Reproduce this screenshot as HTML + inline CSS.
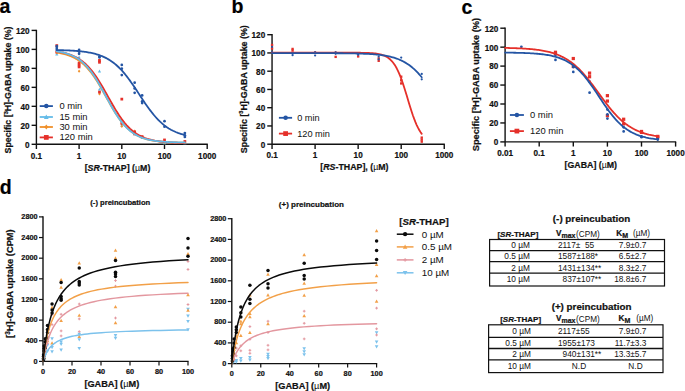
<!DOCTYPE html>
<html><head><meta charset="utf-8"><style>
html,body{margin:0;padding:0;background:#fff;width:685px;height:391px;overflow:hidden}
svg{display:block}
text{font-family:"Liberation Sans",sans-serif}
text[font-weight=bold]{stroke:#111;stroke-width:0.22px}
tspan[font-weight=normal]{stroke:none}
</style></head><body>
<svg width="685" height="391" viewBox="0 0 685 391">
<rect width="685" height="391" fill="#fff"/>
<text x="-0.40" y="13.20" font-size="19.5" font-weight="bold" text-anchor="start" fill="#000" >a</text>
<text x="231.40" y="12.90" font-size="19.5" font-weight="bold" text-anchor="start" fill="#000" >b</text>
<text x="461.60" y="13.60" font-size="19.5" font-weight="bold" text-anchor="start" fill="#000" >c</text>
<text x="-0.20" y="193.80" font-size="19.5" font-weight="bold" text-anchor="start" fill="#000" >d</text>
<line x1="36.40" y1="144.30" x2="207.80" y2="144.30" stroke="#111" stroke-width="1.4" />
<line x1="36.40" y1="29.80" x2="36.40" y2="144.30" stroke="#111" stroke-width="1.4" />
<line x1="31.60" y1="144.30" x2="36.40" y2="144.30" stroke="#111" stroke-width="1.4" />
<text transform="translate(29.60,147.65) scale(0.86,1)" font-size="9.5" font-weight="bold" text-anchor="end" fill="#111" >0</text>
<line x1="31.60" y1="125.32" x2="36.40" y2="125.32" stroke="#111" stroke-width="1.4" />
<text transform="translate(29.60,128.67) scale(0.86,1)" font-size="9.5" font-weight="bold" text-anchor="end" fill="#111" >20</text>
<line x1="31.60" y1="106.33" x2="36.40" y2="106.33" stroke="#111" stroke-width="1.4" />
<text transform="translate(29.60,109.68) scale(0.86,1)" font-size="9.5" font-weight="bold" text-anchor="end" fill="#111" >40</text>
<line x1="31.60" y1="87.35" x2="36.40" y2="87.35" stroke="#111" stroke-width="1.4" />
<text transform="translate(29.60,90.70) scale(0.86,1)" font-size="9.5" font-weight="bold" text-anchor="end" fill="#111" >60</text>
<line x1="31.60" y1="68.36" x2="36.40" y2="68.36" stroke="#111" stroke-width="1.4" />
<text transform="translate(29.60,71.71) scale(0.86,1)" font-size="9.5" font-weight="bold" text-anchor="end" fill="#111" >80</text>
<line x1="31.60" y1="49.38" x2="36.40" y2="49.38" stroke="#111" stroke-width="1.4" />
<text transform="translate(29.60,52.73) scale(0.86,1)" font-size="9.5" font-weight="bold" text-anchor="end" fill="#111" >100</text>
<line x1="31.60" y1="30.40" x2="36.40" y2="30.40" stroke="#111" stroke-width="1.4" />
<text transform="translate(29.60,33.75) scale(0.86,1)" font-size="9.5" font-weight="bold" text-anchor="end" fill="#111" >120</text>
<line x1="36.40" y1="144.30" x2="36.40" y2="149.00" stroke="#111" stroke-width="1.4" />
<text transform="translate(36.40,158.60) scale(0.86,1)" font-size="9.5" font-weight="bold" text-anchor="middle" fill="#111" >0.1</text>
<line x1="79.10" y1="144.30" x2="79.10" y2="149.00" stroke="#111" stroke-width="1.4" />
<text transform="translate(79.10,158.60) scale(0.86,1)" font-size="9.5" font-weight="bold" text-anchor="middle" fill="#111" >1</text>
<line x1="121.80" y1="144.30" x2="121.80" y2="149.00" stroke="#111" stroke-width="1.4" />
<text transform="translate(121.80,158.60) scale(0.86,1)" font-size="9.5" font-weight="bold" text-anchor="middle" fill="#111" >10</text>
<line x1="164.50" y1="144.30" x2="164.50" y2="149.00" stroke="#111" stroke-width="1.4" />
<text transform="translate(164.50,158.60) scale(0.86,1)" font-size="9.5" font-weight="bold" text-anchor="middle" fill="#111" >100</text>
<line x1="207.20" y1="144.30" x2="207.20" y2="149.00" stroke="#111" stroke-width="1.4" />
<text transform="translate(207.20,158.60) scale(0.86,1)" font-size="9.5" font-weight="bold" text-anchor="middle" fill="#111" >1000</text>
<text x="117.50" y="170.60" font-size="8.8" font-weight="bold" text-anchor="middle" fill="#111">[<tspan font-style="italic">SR</tspan>-THAP] (<tspan font-weight="normal">µ</tspan>M)</text>
<text transform="translate(11.40,90.00) rotate(-90) scale(1.0,1)" font-size="8.8" font-weight="bold" text-anchor="middle" fill="#111">Specific [<tspan font-size="5.6" dy="-3.2">3</tspan><tspan dy="3.2">H]-GABA uptake (%)</tspan></text>
<polygon points="56.77,52.51 58.39,55.42 55.16,55.42" fill="#64bbe8"/>
<polygon points="79.10,55.55 80.71,58.46 77.48,58.46" fill="#64bbe8"/>
<polygon points="99.47,69.60 101.09,72.50 97.86,72.50" fill="#64bbe8"/>
<polygon points="99.47,87.63 101.09,90.54 97.86,90.54" fill="#64bbe8"/>
<polygon points="121.80,118.96 123.41,121.86 120.19,121.86" fill="#64bbe8"/>
<polygon points="121.80,123.70 123.41,126.61 120.19,126.61" fill="#64bbe8"/>
<polygon points="134.65,132.24 136.27,135.15 133.04,135.15" fill="#64bbe8"/>
<polygon points="134.65,131.29 136.27,134.20 133.04,134.20" fill="#64bbe8"/>
<polygon points="142.17,136.04 143.79,138.95 140.56,138.95" fill="#64bbe8"/>
<polygon points="164.50,141.26 166.12,144.17 162.88,144.17" fill="#64bbe8"/>
<polygon points="184.87,141.26 186.49,144.17 183.26,144.17" fill="#64bbe8"/>
<polygon points="56.77,50.61 58.07,52.23 56.77,53.84 55.48,52.23" fill="#f0902a"/>
<polygon points="79.10,69.60 80.39,71.21 79.10,72.83 77.81,71.21" fill="#f0902a"/>
<polygon points="99.47,59.63 100.77,61.25 99.47,62.86 98.18,61.25" fill="#f0902a"/>
<polygon points="99.47,92.38 100.77,93.99 99.47,95.61 98.18,93.99" fill="#f0902a"/>
<polygon points="121.80,121.80 123.09,123.42 121.80,125.03 120.51,123.42" fill="#f0902a"/>
<polygon points="121.80,124.65 123.09,126.27 121.80,127.88 120.51,126.27" fill="#f0902a"/>
<polygon points="134.65,129.40 135.95,131.01 134.65,132.63 133.36,131.01" fill="#f0902a"/>
<polygon points="142.17,135.09 143.47,136.71 142.17,138.32 140.88,136.71" fill="#f0902a"/>
<polygon points="164.50,140.79 165.79,142.40 164.50,144.02 163.21,142.40" fill="#f0902a"/>
<polygon points="184.87,140.79 186.17,142.40 184.87,144.02 183.58,142.40" fill="#f0902a"/>
<rect x="55.41" y="44.22" width="2.74" height="2.74" fill="#e5302a"/>
<rect x="55.41" y="50.86" width="2.74" height="2.74" fill="#e5302a"/>
<rect x="77.73" y="61.68" width="2.74" height="2.74" fill="#e5302a"/>
<rect x="77.73" y="63.67" width="2.74" height="2.74" fill="#e5302a"/>
<rect x="77.73" y="65.57" width="2.74" height="2.74" fill="#e5302a"/>
<rect x="98.11" y="59.02" width="2.74" height="2.74" fill="#e5302a"/>
<rect x="98.11" y="60.92" width="2.74" height="2.74" fill="#e5302a"/>
<rect x="98.11" y="90.73" width="2.74" height="2.74" fill="#e5302a"/>
<rect x="120.43" y="97.75" width="2.74" height="2.74" fill="#e5302a"/>
<rect x="120.43" y="122.05" width="2.74" height="2.74" fill="#e5302a"/>
<rect x="133.29" y="130.59" width="2.74" height="2.74" fill="#e5302a"/>
<rect x="133.29" y="132.49" width="2.74" height="2.74" fill="#e5302a"/>
<rect x="140.81" y="135.34" width="2.74" height="2.74" fill="#e5302a"/>
<rect x="163.13" y="138.57" width="2.74" height="2.74" fill="#e5302a"/>
<rect x="183.51" y="140.08" width="2.74" height="2.74" fill="#e5302a"/>
<circle cx="56.77" cy="46.06" r="1.37" fill="#2455a4"/>
<circle cx="56.77" cy="47.96" r="1.37" fill="#2455a4"/>
<circle cx="56.77" cy="49.95" r="1.37" fill="#2455a4"/>
<circle cx="79.10" cy="49.95" r="1.37" fill="#2455a4"/>
<circle cx="79.10" cy="51.75" r="1.37" fill="#2455a4"/>
<circle cx="79.10" cy="53.84" r="1.37" fill="#2455a4"/>
<circle cx="99.47" cy="56.50" r="1.37" fill="#2455a4"/>
<circle cx="99.47" cy="57.45" r="1.37" fill="#2455a4"/>
<circle cx="121.80" cy="64.95" r="1.37" fill="#2455a4"/>
<circle cx="121.80" cy="68.74" r="1.37" fill="#2455a4"/>
<circle cx="121.80" cy="75.10" r="1.37" fill="#2455a4"/>
<circle cx="134.65" cy="82.70" r="1.37" fill="#2455a4"/>
<circle cx="134.65" cy="88.49" r="1.37" fill="#2455a4"/>
<circle cx="134.65" cy="92.85" r="1.37" fill="#2455a4"/>
<circle cx="142.17" cy="95.42" r="1.37" fill="#2455a4"/>
<circle cx="142.17" cy="101.30" r="1.37" fill="#2455a4"/>
<circle cx="142.17" cy="103.10" r="1.37" fill="#2455a4"/>
<circle cx="164.50" cy="121.23" r="1.37" fill="#2455a4"/>
<circle cx="164.50" cy="126.64" r="1.37" fill="#2455a4"/>
<circle cx="184.87" cy="133.00" r="1.37" fill="#2455a4"/>
<circle cx="184.87" cy="135.28" r="1.37" fill="#2455a4"/>
<circle cx="184.87" cy="136.90" r="1.37" fill="#2455a4"/>
<polyline points="56.77,52.63 57.85,52.80 58.93,52.97 60.00,53.17 61.08,53.38 62.16,53.60 63.23,53.85 64.31,54.12 65.38,54.40 66.46,54.71 67.54,55.05 68.61,55.41 69.69,55.80 70.77,56.22 71.84,56.67 72.92,57.16 74.00,57.68 75.07,58.25 76.15,58.85 77.23,59.50 78.30,60.19 79.38,60.93 80.46,61.72 81.53,62.56 82.61,63.46 83.68,64.41 84.76,65.42 85.84,66.50 86.91,67.63 87.99,68.82 89.07,70.08 90.14,71.40 91.22,72.78 92.30,74.22 93.37,75.73 94.45,77.29 95.53,78.91 96.60,80.58 97.68,82.31 98.76,84.08 99.83,85.89 100.91,87.74 101.98,89.62 103.06,91.52 104.14,93.44 105.21,95.38 106.29,97.31 107.37,99.25 108.44,101.18 109.52,103.09 110.60,104.98 111.67,106.85 112.75,108.68 113.83,110.47 114.90,112.21 115.98,113.91 117.06,115.56 118.13,117.14 119.21,118.68 120.28,120.15 121.36,121.56 122.44,122.91 123.51,124.19 124.59,125.41 125.67,126.57 126.74,127.67 127.82,128.71 128.90,129.69 129.97,130.61 131.05,131.48 132.13,132.30 133.20,133.06 134.28,133.77 135.36,134.44 136.43,135.06 137.51,135.65 138.58,136.19 139.66,136.69 140.74,137.16 141.81,137.59 142.89,138.00 143.97,138.37 145.04,138.72 146.12,139.04 147.20,139.34 148.27,139.61 149.35,139.87 150.43,140.10 151.50,140.32 152.58,140.52 153.66,140.71 154.73,140.88 155.81,141.04 156.88,141.18 157.96,141.32 159.04,141.44 160.11,141.56 161.19,141.66 162.27,141.76 163.34,141.85 164.42,141.93 165.50,142.01 166.57,142.07 167.65,142.14 168.73,142.20 169.80,142.25 170.88,142.30 171.96,142.35 173.03,142.39 174.11,142.43 175.18,142.47 176.26,142.50 177.34,142.53 178.41,142.56 179.49,142.58 180.57,142.61 181.64,142.63 182.72,142.65 183.80,142.67 184.87,142.68" fill="none" stroke="#f0902a" stroke-width="1.8" stroke-linejoin="round" stroke-linecap="round"/>
<polyline points="56.77,51.56 57.85,51.72 58.93,51.88 60.00,52.06 61.08,52.26 62.16,52.47 63.23,52.69 64.31,52.94 65.38,53.20 66.46,53.49 67.54,53.80 68.61,54.13 69.69,54.49 70.77,54.87 71.84,55.29 72.92,55.73 74.00,56.21 75.07,56.73 76.15,57.28 77.23,57.87 78.30,58.50 79.38,59.18 80.46,59.90 81.53,60.67 82.61,61.49 83.68,62.36 84.76,63.29 85.84,64.27 86.91,65.31 87.99,66.41 89.07,67.57 90.14,68.78 91.22,70.06 92.30,71.40 93.37,72.80 94.45,74.26 95.53,75.78 96.60,77.36 97.68,78.98 98.76,80.66 99.83,82.39 100.91,84.16 101.98,85.97 103.06,87.81 104.14,89.68 105.21,91.57 106.29,93.48 107.37,95.40 108.44,97.33 109.52,99.25 110.60,101.16 111.67,103.05 112.75,104.93 113.83,106.77 114.90,108.59 115.98,110.36 117.06,112.09 118.13,113.78 119.21,115.41 120.28,116.99 121.36,118.52 122.44,119.98 123.51,121.39 124.59,122.74 125.67,124.02 126.74,125.25 127.82,126.41 128.90,127.52 129.97,128.56 131.05,129.55 132.13,130.48 133.20,131.36 134.28,132.19 135.36,132.96 136.43,133.69 137.51,134.37 138.58,135.01 139.66,135.60 140.74,136.16 141.81,136.68 142.89,137.16 143.97,137.61 145.04,138.03 146.12,138.42 147.20,138.78 148.27,139.11 149.35,139.42 150.43,139.71 151.50,139.98 152.58,140.23 153.66,140.45 154.73,140.67 155.81,140.86 156.88,141.04 157.96,141.21 159.04,141.37 160.11,141.51 161.19,141.64 162.27,141.76 163.34,141.88 164.42,141.98 165.50,142.08 166.57,142.17 167.65,142.25 168.73,142.32 169.80,142.39 170.88,142.46 171.96,142.52 173.03,142.57 174.11,142.62 175.18,142.67 176.26,142.71 177.34,142.75 178.41,142.79 179.49,142.82 180.57,142.85 181.64,142.88 182.72,142.90 183.80,142.93 184.87,142.95" fill="none" stroke="#e5302a" stroke-width="1.8" stroke-linejoin="round" stroke-linecap="round"/>
<polyline points="56.77,51.45 57.85,51.62 58.93,51.79 60.00,51.98 61.08,52.19 62.16,52.42 63.23,52.66 64.31,52.92 65.38,53.21 66.46,53.52 67.54,53.85 68.61,54.21 69.69,54.60 70.77,55.02 71.84,55.48 72.92,55.96 74.00,56.49 75.07,57.06 76.15,57.66 77.23,58.31 78.30,59.01 79.38,59.76 80.46,60.56 81.53,61.41 82.61,62.32 83.68,63.29 84.76,64.32 85.84,65.41 86.91,66.56 87.99,67.78 89.07,69.06 90.14,70.41 91.22,71.82 92.30,73.30 93.37,74.84 94.45,76.44 95.53,78.10 96.60,79.82 97.68,81.59 98.76,83.40 99.83,85.26 100.91,87.16 101.98,89.08 103.06,91.04 104.14,93.01 105.21,94.99 106.29,96.98 107.37,98.96 108.44,100.93 109.52,102.89 110.60,104.82 111.67,106.72 112.75,108.59 113.83,110.41 114.90,112.18 115.98,113.91 117.06,115.58 118.13,117.19 119.21,118.74 120.28,120.22 121.36,121.64 122.44,123.00 123.51,124.29 124.59,125.52 125.67,126.68 126.74,127.78 127.82,128.82 128.90,129.79 129.97,130.71 131.05,131.57 132.13,132.38 133.20,133.13 134.28,133.84 135.36,134.50 136.43,135.11 137.51,135.68 138.58,136.22 139.66,136.71 140.74,137.17 141.81,137.59 142.89,137.99 143.97,138.35 145.04,138.69 146.12,139.00 147.20,139.29 148.27,139.56 149.35,139.80 150.43,140.03 151.50,140.24 152.58,140.43 153.66,140.61 154.73,140.78 155.81,140.93 156.88,141.07 157.96,141.20 159.04,141.31 160.11,141.42 161.19,141.52 162.27,141.62 163.34,141.70 164.42,141.78 165.50,141.85 166.57,141.92 167.65,141.98 168.73,142.03 169.80,142.08 170.88,142.13 171.96,142.17 173.03,142.21 174.11,142.25 175.18,142.28 176.26,142.31 177.34,142.34 178.41,142.37 179.49,142.39 180.57,142.41 181.64,142.43 182.72,142.45 183.80,142.47 184.87,142.49" fill="none" stroke="#64bbe8" stroke-width="1.8" stroke-linejoin="round" stroke-linecap="round"/>
<polyline points="56.77,50.07 57.85,50.10 58.93,50.12 60.00,50.15 61.08,50.18 62.16,50.21 63.23,50.24 64.31,50.28 65.38,50.32 66.46,50.36 67.54,50.41 68.61,50.46 69.69,50.51 70.77,50.57 71.84,50.63 72.92,50.69 74.00,50.76 75.07,50.84 76.15,50.92 77.23,51.01 78.30,51.10 79.38,51.20 80.46,51.31 81.53,51.43 82.61,51.55 83.68,51.68 84.76,51.83 85.84,51.98 86.91,52.15 87.99,52.33 89.07,52.52 90.14,52.72 91.22,52.94 92.30,53.17 93.37,53.42 94.45,53.69 95.53,53.98 96.60,54.29 97.68,54.62 98.76,54.97 99.83,55.34 100.91,55.74 101.98,56.17 103.06,56.62 104.14,57.11 105.21,57.62 106.29,58.17 107.37,58.75 108.44,59.36 109.52,60.02 110.60,60.71 111.67,61.44 112.75,62.21 113.83,63.02 114.90,63.88 115.98,64.78 117.06,65.73 118.13,66.72 119.21,67.76 120.28,68.85 121.36,69.98 122.44,71.16 123.51,72.39 124.59,73.66 125.67,74.98 126.74,76.34 127.82,77.74 128.90,79.17 129.97,80.65 131.05,82.16 132.13,83.70 133.20,85.27 134.28,86.86 135.36,88.47 136.43,90.09 137.51,91.73 138.58,93.37 139.66,95.02 140.74,96.66 141.81,98.30 142.89,99.92 143.97,101.53 145.04,103.13 146.12,104.69 147.20,106.23 148.27,107.74 149.35,109.22 150.43,110.66 151.50,112.06 152.58,113.42 153.66,114.74 154.73,116.01 155.81,117.24 156.88,118.42 157.96,119.55 159.04,120.64 160.11,121.68 161.19,122.68 162.27,123.62 163.34,124.53 164.42,125.39 165.50,126.20 166.57,126.97 167.65,127.70 168.73,128.40 169.80,129.05 170.88,129.67 171.96,130.25 173.03,130.80 174.11,131.31 175.18,131.79 176.26,132.25 177.34,132.68 178.41,133.08 179.49,133.45 180.57,133.80 181.64,134.13 182.72,134.44 183.80,134.73 184.87,135.00" fill="none" stroke="#2455a4" stroke-width="1.8" stroke-linejoin="round" stroke-linecap="round"/>
<line x1="39.70" y1="106.10" x2="52.90" y2="106.10" stroke="#2455a4" stroke-width="1.8" />
<circle cx="46.30" cy="106.10" r="2.25" fill="#2455a4"/>
<text x="59.40" y="109.10" font-size="9.4" text-anchor="start" fill="#111" >0 min</text>
<line x1="39.70" y1="117.00" x2="52.90" y2="117.00" stroke="#64bbe8" stroke-width="1.8" />
<polygon points="46.30,114.62 48.67,118.90 43.92,118.90" fill="#64bbe8"/>
<text x="59.40" y="120.00" font-size="9.4" text-anchor="start" fill="#111" >15 min</text>
<line x1="39.70" y1="127.00" x2="52.90" y2="127.00" stroke="#f0902a" stroke-width="1.8" />
<polygon points="46.30,124.62 48.20,127.00 46.30,129.38 44.40,127.00" fill="#f0902a"/>
<text x="59.40" y="130.00" font-size="9.4" text-anchor="start" fill="#111" >30 min</text>
<line x1="39.70" y1="137.40" x2="52.90" y2="137.40" stroke="#e5302a" stroke-width="1.8" />
<rect x="43.92" y="135.03" width="4.75" height="4.75" fill="#e5302a"/>
<text x="59.40" y="140.40" font-size="9.4" text-anchor="start" fill="#111" >120 min</text>
<line x1="272.05" y1="144.20" x2="444.85" y2="144.20" stroke="#111" stroke-width="1.4" />
<line x1="272.05" y1="34.10" x2="272.05" y2="144.20" stroke="#111" stroke-width="1.4" />
<line x1="267.25" y1="144.20" x2="272.05" y2="144.20" stroke="#111" stroke-width="1.4" />
<text transform="translate(265.20,147.55) scale(0.86,1)" font-size="9.5" font-weight="bold" text-anchor="end" fill="#111" >0</text>
<line x1="267.25" y1="125.95" x2="272.05" y2="125.95" stroke="#111" stroke-width="1.4" />
<text transform="translate(265.20,129.30) scale(0.86,1)" font-size="9.5" font-weight="bold" text-anchor="end" fill="#111" >20</text>
<line x1="267.25" y1="107.70" x2="272.05" y2="107.70" stroke="#111" stroke-width="1.4" />
<text transform="translate(265.20,111.05) scale(0.86,1)" font-size="9.5" font-weight="bold" text-anchor="end" fill="#111" >40</text>
<line x1="267.25" y1="89.45" x2="272.05" y2="89.45" stroke="#111" stroke-width="1.4" />
<text transform="translate(265.20,92.80) scale(0.86,1)" font-size="9.5" font-weight="bold" text-anchor="end" fill="#111" >60</text>
<line x1="267.25" y1="71.20" x2="272.05" y2="71.20" stroke="#111" stroke-width="1.4" />
<text transform="translate(265.20,74.55) scale(0.86,1)" font-size="9.5" font-weight="bold" text-anchor="end" fill="#111" >80</text>
<line x1="267.25" y1="52.95" x2="272.05" y2="52.95" stroke="#111" stroke-width="1.4" />
<text transform="translate(265.20,56.30) scale(0.86,1)" font-size="9.5" font-weight="bold" text-anchor="end" fill="#111" >100</text>
<line x1="267.25" y1="34.70" x2="272.05" y2="34.70" stroke="#111" stroke-width="1.4" />
<text transform="translate(265.20,38.05) scale(0.86,1)" font-size="9.5" font-weight="bold" text-anchor="end" fill="#111" >120</text>
<line x1="272.05" y1="144.20" x2="272.05" y2="148.90" stroke="#111" stroke-width="1.4" />
<text transform="translate(272.05,158.30) scale(0.86,1)" font-size="9.5" font-weight="bold" text-anchor="middle" fill="#111" >0.1</text>
<line x1="315.10" y1="144.20" x2="315.10" y2="148.90" stroke="#111" stroke-width="1.4" />
<text transform="translate(315.10,158.30) scale(0.86,1)" font-size="9.5" font-weight="bold" text-anchor="middle" fill="#111" >1</text>
<line x1="358.15" y1="144.20" x2="358.15" y2="148.90" stroke="#111" stroke-width="1.4" />
<text transform="translate(358.15,158.30) scale(0.86,1)" font-size="9.5" font-weight="bold" text-anchor="middle" fill="#111" >10</text>
<line x1="401.20" y1="144.20" x2="401.20" y2="148.90" stroke="#111" stroke-width="1.4" />
<text transform="translate(401.20,158.30) scale(0.86,1)" font-size="9.5" font-weight="bold" text-anchor="middle" fill="#111" >100</text>
<line x1="444.25" y1="144.20" x2="444.25" y2="148.90" stroke="#111" stroke-width="1.4" />
<text transform="translate(444.25,158.30) scale(0.86,1)" font-size="9.5" font-weight="bold" text-anchor="middle" fill="#111" >1000</text>
<text x="354.40" y="170.30" font-size="8.8" font-weight="bold" text-anchor="middle" fill="#111">[<tspan font-style="italic">RS</tspan>-THAP], (<tspan font-weight="normal">µ</tspan>M)</text>
<text transform="translate(246.60,89.20) rotate(-90) scale(1.01,1)" font-size="8.8" font-weight="bold" text-anchor="middle" fill="#111">Specific [<tspan font-size="5.6" dy="-3.2">3</tspan><tspan dy="3.2">H]-GABA uptake (%)</tspan></text>
<rect x="270.87" y="43.83" width="2.36" height="2.36" fill="#e5302a"/>
<rect x="270.87" y="47.30" width="2.36" height="2.36" fill="#e5302a"/>
<rect x="291.41" y="47.76" width="2.36" height="2.36" fill="#e5302a"/>
<rect x="291.41" y="49.40" width="2.36" height="2.36" fill="#e5302a"/>
<rect x="313.92" y="51.77" width="2.36" height="2.36" fill="#e5302a"/>
<rect x="334.46" y="55.70" width="2.36" height="2.36" fill="#e5302a"/>
<rect x="356.97" y="55.24" width="2.36" height="2.36" fill="#e5302a"/>
<rect x="377.51" y="57.25" width="2.36" height="2.36" fill="#e5302a"/>
<rect x="377.51" y="59.62" width="2.36" height="2.36" fill="#e5302a"/>
<rect x="400.02" y="75.50" width="2.36" height="2.36" fill="#e5302a"/>
<rect x="400.02" y="79.15" width="2.36" height="2.36" fill="#e5302a"/>
<rect x="400.02" y="82.25" width="2.36" height="2.36" fill="#e5302a"/>
<rect x="420.56" y="136.45" width="2.36" height="2.36" fill="#e5302a"/>
<rect x="420.56" y="138.46" width="2.36" height="2.36" fill="#e5302a"/>
<rect x="420.56" y="140.47" width="2.36" height="2.36" fill="#e5302a"/>
<circle cx="272.05" cy="46.84" r="1.12" fill="#2455a4"/>
<circle cx="272.05" cy="52.04" r="1.12" fill="#2455a4"/>
<circle cx="292.59" cy="53.41" r="1.12" fill="#2455a4"/>
<circle cx="292.59" cy="55.23" r="1.12" fill="#2455a4"/>
<circle cx="315.10" cy="52.04" r="1.12" fill="#2455a4"/>
<circle cx="315.10" cy="55.50" r="1.12" fill="#2455a4"/>
<circle cx="335.64" cy="52.04" r="1.12" fill="#2455a4"/>
<circle cx="335.64" cy="53.86" r="1.12" fill="#2455a4"/>
<circle cx="358.15" cy="53.86" r="1.12" fill="#2455a4"/>
<circle cx="358.15" cy="54.77" r="1.12" fill="#2455a4"/>
<circle cx="378.69" cy="56.60" r="1.12" fill="#2455a4"/>
<circle cx="378.69" cy="59.34" r="1.12" fill="#2455a4"/>
<circle cx="401.20" cy="57.60" r="1.12" fill="#2455a4"/>
<circle cx="421.74" cy="73.94" r="1.12" fill="#2455a4"/>
<circle cx="421.74" cy="79.32" r="1.12" fill="#2455a4"/>
<polyline points="272.05,52.68 273.31,52.68 274.57,52.68 275.82,52.68 277.08,52.68 278.34,52.68 279.60,52.68 280.86,52.68 282.11,52.68 283.37,52.68 284.63,52.68 285.89,52.68 287.14,52.68 288.40,52.68 289.66,52.68 290.92,52.68 292.18,52.68 293.43,52.68 294.69,52.68 295.95,52.68 297.21,52.68 298.47,52.68 299.72,52.68 300.98,52.68 302.24,52.68 303.50,52.68 304.76,52.68 306.01,52.68 307.27,52.68 308.53,52.68 309.79,52.68 311.04,52.68 312.30,52.68 313.56,52.68 314.82,52.68 316.08,52.68 317.33,52.68 318.59,52.68 319.85,52.68 321.11,52.68 322.37,52.68 323.62,52.68 324.88,52.68 326.14,52.68 327.40,52.68 328.66,52.68 329.91,52.68 331.17,52.68 332.43,52.68 333.69,52.68 334.94,52.68 336.20,52.68 337.46,52.68 338.72,52.68 339.98,52.68 341.23,52.68 342.49,52.68 343.75,52.68 345.01,52.69 346.27,52.69 347.52,52.69 348.78,52.69 350.04,52.70 351.30,52.70 352.56,52.71 353.81,52.71 355.07,52.72 356.33,52.73 357.59,52.74 358.85,52.75 360.10,52.77 361.36,52.79 362.62,52.81 363.88,52.83 365.13,52.87 366.39,52.90 367.65,52.95 368.91,53.01 370.17,53.07 371.42,53.15 372.68,53.24 373.94,53.36 375.20,53.49 376.46,53.66 377.71,53.85 378.97,54.08 380.23,54.36 381.49,54.69 382.75,55.08 384.00,55.55 385.26,56.11 386.52,56.76 387.78,57.54 389.03,58.46 390.29,59.53 391.55,60.79 392.81,62.24 394.07,63.93 395.32,65.86 396.58,68.07 397.84,70.55 399.10,73.33 400.36,76.41 401.61,79.76 402.87,83.38 404.13,87.21 405.39,91.23 406.65,95.36 407.90,99.54 409.16,103.71 410.42,107.78 411.68,111.71 412.93,115.44 414.19,118.92 415.45,122.13 416.71,125.05 417.97,127.67 419.22,130.01 420.48,132.07 421.74,133.87" fill="none" stroke="#e5302a" stroke-width="1.8" stroke-linejoin="round" stroke-linecap="round"/>
<polyline points="272.05,53.13 273.31,53.13 274.57,53.13 275.82,53.13 277.08,53.13 278.34,53.13 279.60,53.13 280.86,53.13 282.11,53.13 283.37,53.13 284.63,53.13 285.89,53.14 287.14,53.14 288.40,53.14 289.66,53.14 290.92,53.14 292.18,53.14 293.43,53.14 294.69,53.14 295.95,53.14 297.21,53.14 298.47,53.14 299.72,53.14 300.98,53.14 302.24,53.14 303.50,53.14 304.76,53.14 306.01,53.14 307.27,53.14 308.53,53.15 309.79,53.15 311.04,53.15 312.30,53.15 313.56,53.15 314.82,53.15 316.08,53.15 317.33,53.16 318.59,53.16 319.85,53.16 321.11,53.16 322.37,53.17 323.62,53.17 324.88,53.17 326.14,53.18 327.40,53.18 328.66,53.18 329.91,53.19 331.17,53.19 332.43,53.20 333.69,53.21 334.94,53.21 336.20,53.22 337.46,53.23 338.72,53.24 339.98,53.25 341.23,53.26 342.49,53.27 343.75,53.28 345.01,53.29 346.27,53.31 347.52,53.33 348.78,53.34 350.04,53.36 351.30,53.38 352.56,53.41 353.81,53.43 355.07,53.46 356.33,53.49 357.59,53.52 358.85,53.55 360.10,53.59 361.36,53.63 362.62,53.68 363.88,53.73 365.13,53.78 366.39,53.84 367.65,53.90 368.91,53.97 370.17,54.05 371.42,54.13 372.68,54.22 373.94,54.32 375.20,54.43 376.46,54.54 377.71,54.67 378.97,54.81 380.23,54.95 381.49,55.12 382.75,55.29 384.00,55.48 385.26,55.69 386.52,55.92 387.78,56.16 389.03,56.43 390.29,56.72 391.55,57.03 392.81,57.37 394.07,57.73 395.32,58.13 396.58,58.55 397.84,59.02 399.10,59.51 400.36,60.05 401.61,60.63 402.87,61.25 404.13,61.91 405.39,62.63 406.65,63.40 407.90,64.22 409.16,65.09 410.42,66.03 411.68,67.02 412.93,68.08 414.19,69.20 415.45,70.38 416.71,71.63 417.97,72.95 419.22,74.33 420.48,75.78 421.74,77.29" fill="none" stroke="#2455a4" stroke-width="1.8" stroke-linejoin="round" stroke-linecap="round"/>
<line x1="278.90" y1="117.80" x2="292.10" y2="117.80" stroke="#2455a4" stroke-width="1.8" />
<circle cx="285.60" cy="117.80" r="2.25" fill="#2455a4"/>
<text x="297.20" y="120.90" font-size="9.2" text-anchor="start" fill="#111" >0 min</text>
<line x1="278.90" y1="133.60" x2="292.10" y2="133.60" stroke="#e5302a" stroke-width="1.8" />
<rect x="283.23" y="131.22" width="4.75" height="4.75" fill="#e5302a"/>
<text x="297.20" y="136.70" font-size="9.2" text-anchor="start" fill="#111" >120 min</text>
<line x1="505.10" y1="141.90" x2="676.20" y2="141.90" stroke="#111" stroke-width="1.4" />
<line x1="505.10" y1="27.60" x2="505.10" y2="141.90" stroke="#111" stroke-width="1.4" />
<line x1="500.30" y1="141.90" x2="505.10" y2="141.90" stroke="#111" stroke-width="1.4" />
<text transform="translate(498.40,145.25) scale(0.86,1)" font-size="9.5" font-weight="bold" text-anchor="end" fill="#111" >0</text>
<line x1="500.30" y1="122.95" x2="505.10" y2="122.95" stroke="#111" stroke-width="1.4" />
<text transform="translate(498.40,126.30) scale(0.86,1)" font-size="9.5" font-weight="bold" text-anchor="end" fill="#111" >20</text>
<line x1="500.30" y1="104.00" x2="505.10" y2="104.00" stroke="#111" stroke-width="1.4" />
<text transform="translate(498.40,107.35) scale(0.86,1)" font-size="9.5" font-weight="bold" text-anchor="end" fill="#111" >40</text>
<line x1="500.30" y1="85.05" x2="505.10" y2="85.05" stroke="#111" stroke-width="1.4" />
<text transform="translate(498.40,88.40) scale(0.86,1)" font-size="9.5" font-weight="bold" text-anchor="end" fill="#111" >60</text>
<line x1="500.30" y1="66.10" x2="505.10" y2="66.10" stroke="#111" stroke-width="1.4" />
<text transform="translate(498.40,69.45) scale(0.86,1)" font-size="9.5" font-weight="bold" text-anchor="end" fill="#111" >80</text>
<line x1="500.30" y1="47.15" x2="505.10" y2="47.15" stroke="#111" stroke-width="1.4" />
<text transform="translate(498.40,50.50) scale(0.86,1)" font-size="9.5" font-weight="bold" text-anchor="end" fill="#111" >100</text>
<line x1="500.30" y1="28.20" x2="505.10" y2="28.20" stroke="#111" stroke-width="1.4" />
<text transform="translate(498.40,31.55) scale(0.86,1)" font-size="9.5" font-weight="bold" text-anchor="end" fill="#111" >120</text>
<line x1="505.10" y1="141.90" x2="505.10" y2="146.60" stroke="#111" stroke-width="1.4" />
<text transform="translate(505.10,156.40) scale(0.86,1)" font-size="9.5" font-weight="bold" text-anchor="middle" fill="#111" >0.01</text>
<line x1="539.20" y1="141.90" x2="539.20" y2="146.60" stroke="#111" stroke-width="1.4" />
<text transform="translate(539.20,156.40) scale(0.86,1)" font-size="9.5" font-weight="bold" text-anchor="middle" fill="#111" >0.1</text>
<line x1="573.30" y1="141.90" x2="573.30" y2="146.60" stroke="#111" stroke-width="1.4" />
<text transform="translate(573.30,156.40) scale(0.86,1)" font-size="9.5" font-weight="bold" text-anchor="middle" fill="#111" >1</text>
<line x1="607.40" y1="141.90" x2="607.40" y2="146.60" stroke="#111" stroke-width="1.4" />
<text transform="translate(607.40,156.40) scale(0.86,1)" font-size="9.5" font-weight="bold" text-anchor="middle" fill="#111" >10</text>
<line x1="641.50" y1="141.90" x2="641.50" y2="146.60" stroke="#111" stroke-width="1.4" />
<text transform="translate(641.50,156.40) scale(0.86,1)" font-size="9.5" font-weight="bold" text-anchor="middle" fill="#111" >100</text>
<line x1="675.60" y1="141.90" x2="675.60" y2="146.60" stroke="#111" stroke-width="1.4" />
<text transform="translate(675.60,156.40) scale(0.86,1)" font-size="9.5" font-weight="bold" text-anchor="middle" fill="#111" >1000</text>
<text x="590.80" y="168.40" font-size="8.8" font-weight="bold" text-anchor="middle" fill="#111">[GABA] (<tspan font-weight="normal">µ</tspan>M)</text>
<text transform="translate(478.80,84.60) rotate(-90) scale(1.05,1)" font-size="8.8" font-weight="bold" text-anchor="middle" fill="#111">Specific [<tspan font-size="5.6" dy="-3.2">3</tspan><tspan dy="3.2">H]-GABA uptake (%)</tspan></text>
<rect x="553.85" y="50.65" width="3.23" height="3.23" fill="#e5302a"/>
<rect x="553.85" y="52.17" width="3.23" height="3.23" fill="#e5302a"/>
<rect x="571.68" y="56.91" width="3.23" height="3.23" fill="#e5302a"/>
<rect x="571.68" y="64.86" width="3.23" height="3.23" fill="#e5302a"/>
<rect x="587.95" y="71.50" width="3.23" height="3.23" fill="#e5302a"/>
<rect x="587.95" y="75.10" width="3.23" height="3.23" fill="#e5302a"/>
<rect x="605.78" y="94.05" width="3.23" height="3.23" fill="#e5302a"/>
<rect x="605.78" y="99.45" width="3.23" height="3.23" fill="#e5302a"/>
<rect x="605.78" y="114.04" width="3.23" height="3.23" fill="#e5302a"/>
<rect x="622.05" y="117.64" width="3.23" height="3.23" fill="#e5302a"/>
<rect x="622.05" y="122.28" width="3.23" height="3.23" fill="#e5302a"/>
<rect x="639.88" y="129.86" width="3.23" height="3.23" fill="#e5302a"/>
<rect x="639.88" y="130.81" width="3.23" height="3.23" fill="#e5302a"/>
<rect x="656.15" y="134.79" width="3.23" height="3.23" fill="#e5302a"/>
<rect x="656.15" y="135.55" width="3.23" height="3.23" fill="#e5302a"/>
<circle cx="521.37" cy="46.87" r="1.37" fill="#2455a4"/>
<circle cx="555.47" cy="54.64" r="1.37" fill="#2455a4"/>
<circle cx="555.47" cy="59.94" r="1.37" fill="#2455a4"/>
<circle cx="573.30" cy="67.05" r="1.37" fill="#2455a4"/>
<circle cx="573.30" cy="71.88" r="1.37" fill="#2455a4"/>
<circle cx="589.57" cy="81.64" r="1.37" fill="#2455a4"/>
<circle cx="589.57" cy="92.63" r="1.37" fill="#2455a4"/>
<circle cx="607.40" cy="109.59" r="1.37" fill="#2455a4"/>
<circle cx="607.40" cy="118.59" r="1.37" fill="#2455a4"/>
<circle cx="607.40" cy="114.42" r="1.37" fill="#2455a4"/>
<circle cx="623.67" cy="127.31" r="1.37" fill="#2455a4"/>
<circle cx="623.67" cy="131.48" r="1.37" fill="#2455a4"/>
<circle cx="641.50" cy="136.31" r="1.37" fill="#2455a4"/>
<circle cx="641.50" cy="137.16" r="1.37" fill="#2455a4"/>
<circle cx="657.77" cy="139.06" r="1.37" fill="#2455a4"/>
<circle cx="657.77" cy="139.53" r="1.37" fill="#2455a4"/>
<polyline points="505.10,47.91 506.38,47.94 507.67,47.96 508.95,47.99 510.23,48.03 511.51,48.06 512.80,48.10 514.08,48.14 515.36,48.19 516.65,48.24 517.93,48.29 519.21,48.34 520.50,48.41 521.78,48.47 523.06,48.54 524.34,48.62 525.63,48.70 526.91,48.79 528.19,48.88 529.48,48.99 530.76,49.10 532.04,49.22 533.32,49.35 534.61,49.48 535.89,49.63 537.17,49.79 538.46,49.97 539.74,50.15 541.02,50.35 542.31,50.57 543.59,50.80 544.87,51.04 546.15,51.31 547.44,51.60 548.72,51.90 550.00,52.23 551.29,52.58 552.57,52.96 553.85,53.37 555.13,53.80 556.42,54.26 557.70,54.75 558.98,55.28 560.27,55.84 561.55,56.44 562.83,57.07 564.12,57.75 565.40,58.47 566.68,59.23 567.96,60.04 569.25,60.89 570.53,61.79 571.81,62.74 573.10,63.74 574.38,64.79 575.66,65.89 576.94,67.05 578.23,68.25 579.51,69.51 580.79,70.82 582.08,72.18 583.36,73.59 584.64,75.05 585.93,76.56 587.21,78.10 588.49,79.69 589.77,81.31 591.06,82.97 592.34,84.65 593.62,86.36 594.91,88.09 596.19,89.83 597.47,91.59 598.75,93.35 600.04,95.10 601.32,96.86 602.60,98.60 603.89,100.33 605.17,102.03 606.45,103.71 607.74,105.37 609.02,106.98 610.30,108.56 611.58,110.11 612.87,111.60 614.15,113.05 615.43,114.46 616.72,115.81 618.00,117.12 619.28,118.37 620.56,119.57 621.85,120.72 623.13,121.81 624.41,122.86 625.70,123.85 626.98,124.79 628.26,125.69 629.55,126.53 630.83,127.33 632.11,128.09 633.39,128.80 634.68,129.47 635.96,130.10 637.24,130.70 638.53,131.25 639.81,131.77 641.09,132.26 642.37,132.72 643.66,133.15 644.94,133.55 646.22,133.92 647.51,134.27 648.79,134.60 650.07,134.90 651.36,135.19 652.64,135.45 653.92,135.70 655.20,135.92 656.49,136.14 657.77,136.33" fill="none" stroke="#e5302a" stroke-width="1.8" stroke-linejoin="round" stroke-linecap="round"/>
<polyline points="505.10,52.61 506.38,52.62 507.67,52.63 508.95,52.65 510.23,52.67 511.51,52.69 512.80,52.71 514.08,52.73 515.36,52.75 516.65,52.78 517.93,52.81 519.21,52.84 520.50,52.87 521.78,52.91 523.06,52.95 524.34,53.00 525.63,53.05 526.91,53.10 528.19,53.16 529.48,53.22 530.76,53.29 532.04,53.36 533.32,53.44 534.61,53.53 535.89,53.63 537.17,53.74 538.46,53.85 539.74,53.98 541.02,54.11 542.31,54.26 543.59,54.42 544.87,54.60 546.15,54.79 547.44,54.99 548.72,55.22 550.00,55.46 551.29,55.72 552.57,56.01 553.85,56.32 555.13,56.66 556.42,57.02 557.70,57.42 558.98,57.84 560.27,58.30 561.55,58.80 562.83,59.33 564.12,59.91 565.40,60.53 566.68,61.19 567.96,61.91 569.25,62.67 570.53,63.49 571.81,64.37 573.10,65.30 574.38,66.29 575.66,67.34 576.94,68.46 578.23,69.64 579.51,70.88 580.79,72.19 582.08,73.57 583.36,75.01 584.64,76.51 585.93,78.07 587.21,79.70 588.49,81.37 589.77,83.10 591.06,84.88 592.34,86.70 593.62,88.56 594.91,90.44 596.19,92.35 597.47,94.28 598.75,96.21 600.04,98.15 601.32,100.08 602.60,102.00 603.89,103.90 605.17,105.77 606.45,107.61 607.74,109.41 609.02,111.16 610.30,112.87 611.58,114.52 612.87,116.11 614.15,117.64 615.43,119.12 616.72,120.52 618.00,121.87 619.28,123.15 620.56,124.36 621.85,125.51 623.13,126.59 624.41,127.61 625.70,128.57 626.98,129.48 628.26,130.32 629.55,131.11 630.83,131.85 632.11,132.54 633.39,133.19 634.68,133.78 635.96,134.34 637.24,134.86 638.53,135.33 639.81,135.78 641.09,136.19 642.37,136.57 643.66,136.92 644.94,137.24 646.22,137.54 647.51,137.81 648.79,138.07 650.07,138.30 651.36,138.52 652.64,138.72 653.92,138.90 655.20,139.07 656.49,139.22 657.77,139.36" fill="none" stroke="#2455a4" stroke-width="1.8" stroke-linejoin="round" stroke-linecap="round"/>
<line x1="509.90" y1="115.00" x2="523.90" y2="115.00" stroke="#2455a4" stroke-width="1.8" />
<circle cx="516.90" cy="115.00" r="2.25" fill="#2455a4"/>
<text x="530.00" y="118.10" font-size="9.4" text-anchor="start" fill="#111" >0 min</text>
<line x1="509.90" y1="131.10" x2="523.90" y2="131.10" stroke="#e5302a" stroke-width="1.8" />
<rect x="514.52" y="128.72" width="4.75" height="4.75" fill="#e5302a"/>
<text x="530.00" y="134.20" font-size="9.4" text-anchor="start" fill="#111" >120 min</text>
<line x1="43.00" y1="361.40" x2="188.60" y2="361.40" stroke="#111" stroke-width="1.4" />
<line x1="43.00" y1="216.29" x2="43.00" y2="361.40" stroke="#111" stroke-width="1.4" />
<line x1="39.00" y1="361.40" x2="43.00" y2="361.40" stroke="#111" stroke-width="1.2" />
<text transform="translate(37.60,363.65) scale(0.95,1)" font-size="7.7" font-weight="bold" text-anchor="end" fill="#111" >0</text>
<line x1="39.00" y1="340.76" x2="43.00" y2="340.76" stroke="#111" stroke-width="1.2" />
<text transform="translate(37.60,343.01) scale(0.95,1)" font-size="7.7" font-weight="bold" text-anchor="end" fill="#111" >400</text>
<line x1="39.00" y1="320.11" x2="43.00" y2="320.11" stroke="#111" stroke-width="1.2" />
<text transform="translate(37.60,322.36) scale(0.95,1)" font-size="7.7" font-weight="bold" text-anchor="end" fill="#111" >800</text>
<line x1="39.00" y1="299.47" x2="43.00" y2="299.47" stroke="#111" stroke-width="1.2" />
<text transform="translate(37.60,301.72) scale(0.95,1)" font-size="7.7" font-weight="bold" text-anchor="end" fill="#111" >1200</text>
<line x1="39.00" y1="278.82" x2="43.00" y2="278.82" stroke="#111" stroke-width="1.2" />
<text transform="translate(37.60,281.07) scale(0.95,1)" font-size="7.7" font-weight="bold" text-anchor="end" fill="#111" >1600</text>
<line x1="39.00" y1="258.18" x2="43.00" y2="258.18" stroke="#111" stroke-width="1.2" />
<text transform="translate(37.60,260.43) scale(0.95,1)" font-size="7.7" font-weight="bold" text-anchor="end" fill="#111" >2000</text>
<line x1="39.00" y1="237.54" x2="43.00" y2="237.54" stroke="#111" stroke-width="1.2" />
<text transform="translate(37.60,239.79) scale(0.95,1)" font-size="7.7" font-weight="bold" text-anchor="end" fill="#111" >2400</text>
<line x1="39.00" y1="216.89" x2="43.00" y2="216.89" stroke="#111" stroke-width="1.2" />
<text transform="translate(37.60,219.14) scale(0.95,1)" font-size="7.7" font-weight="bold" text-anchor="end" fill="#111" >2800</text>
<line x1="43.00" y1="361.40" x2="43.00" y2="365.40" stroke="#111" stroke-width="1.2" />
<text transform="translate(43.00,374.00) scale(0.95,1)" font-size="7.7" font-weight="bold" text-anchor="middle" fill="#111" >0</text>
<line x1="72.00" y1="361.40" x2="72.00" y2="365.40" stroke="#111" stroke-width="1.2" />
<text transform="translate(72.00,374.00) scale(0.95,1)" font-size="7.7" font-weight="bold" text-anchor="middle" fill="#111" >20</text>
<line x1="101.00" y1="361.40" x2="101.00" y2="365.40" stroke="#111" stroke-width="1.2" />
<text transform="translate(101.00,374.00) scale(0.95,1)" font-size="7.7" font-weight="bold" text-anchor="middle" fill="#111" >40</text>
<line x1="130.00" y1="361.40" x2="130.00" y2="365.40" stroke="#111" stroke-width="1.2" />
<text transform="translate(130.00,374.00) scale(0.95,1)" font-size="7.7" font-weight="bold" text-anchor="middle" fill="#111" >60</text>
<line x1="159.00" y1="361.40" x2="159.00" y2="365.40" stroke="#111" stroke-width="1.2" />
<text transform="translate(159.00,374.00) scale(0.95,1)" font-size="7.7" font-weight="bold" text-anchor="middle" fill="#111" >80</text>
<line x1="188.00" y1="361.40" x2="188.00" y2="365.40" stroke="#111" stroke-width="1.2" />
<text transform="translate(188.00,374.00) scale(0.95,1)" font-size="7.7" font-weight="bold" text-anchor="middle" fill="#111" >100</text>
<text x="111.80" y="386.50" font-size="9.2" font-weight="bold" text-anchor="middle" fill="#111" >[GABA] (<tspan font-weight="normal">µ</tspan>M)</text>
<text x="120.30" y="205.00" font-size="7.6" font-weight="bold" text-anchor="middle" fill="#111" >(-) preincubation</text>
<text transform="translate(13.3,283.6) rotate(-90)" font-size="9.3" font-weight="bold" text-anchor="middle" fill="#111">[<tspan font-size="6.4" dy="-3.5">3</tspan><tspan dy="3.5">H]-GABA uptake (CPM)</tspan></text>
<line x1="231.80" y1="363.60" x2="377.20" y2="363.60" stroke="#111" stroke-width="1.4" />
<line x1="231.80" y1="218.10" x2="231.80" y2="363.60" stroke="#111" stroke-width="1.4" />
<line x1="227.80" y1="363.60" x2="231.80" y2="363.60" stroke="#111" stroke-width="1.2" />
<text transform="translate(226.40,365.85) scale(0.95,1)" font-size="7.7" font-weight="bold" text-anchor="end" fill="#111" >0</text>
<line x1="227.80" y1="342.90" x2="231.80" y2="342.90" stroke="#111" stroke-width="1.2" />
<text transform="translate(226.40,345.15) scale(0.95,1)" font-size="7.7" font-weight="bold" text-anchor="end" fill="#111" >400</text>
<line x1="227.80" y1="322.20" x2="231.80" y2="322.20" stroke="#111" stroke-width="1.2" />
<text transform="translate(226.40,324.45) scale(0.95,1)" font-size="7.7" font-weight="bold" text-anchor="end" fill="#111" >800</text>
<line x1="227.80" y1="301.50" x2="231.80" y2="301.50" stroke="#111" stroke-width="1.2" />
<text transform="translate(226.40,303.75) scale(0.95,1)" font-size="7.7" font-weight="bold" text-anchor="end" fill="#111" >1200</text>
<line x1="227.80" y1="280.80" x2="231.80" y2="280.80" stroke="#111" stroke-width="1.2" />
<text transform="translate(226.40,283.05) scale(0.95,1)" font-size="7.7" font-weight="bold" text-anchor="end" fill="#111" >1600</text>
<line x1="227.80" y1="260.10" x2="231.80" y2="260.10" stroke="#111" stroke-width="1.2" />
<text transform="translate(226.40,262.35) scale(0.95,1)" font-size="7.7" font-weight="bold" text-anchor="end" fill="#111" >2000</text>
<line x1="227.80" y1="239.40" x2="231.80" y2="239.40" stroke="#111" stroke-width="1.2" />
<text transform="translate(226.40,241.65) scale(0.95,1)" font-size="7.7" font-weight="bold" text-anchor="end" fill="#111" >2400</text>
<line x1="227.80" y1="218.70" x2="231.80" y2="218.70" stroke="#111" stroke-width="1.2" />
<text transform="translate(226.40,220.95) scale(0.95,1)" font-size="7.7" font-weight="bold" text-anchor="end" fill="#111" >2800</text>
<line x1="231.80" y1="363.60" x2="231.80" y2="367.60" stroke="#111" stroke-width="1.2" />
<text transform="translate(231.80,376.20) scale(0.95,1)" font-size="7.7" font-weight="bold" text-anchor="middle" fill="#111" >0</text>
<line x1="260.76" y1="363.60" x2="260.76" y2="367.60" stroke="#111" stroke-width="1.2" />
<text transform="translate(260.76,376.20) scale(0.95,1)" font-size="7.7" font-weight="bold" text-anchor="middle" fill="#111" >20</text>
<line x1="289.72" y1="363.60" x2="289.72" y2="367.60" stroke="#111" stroke-width="1.2" />
<text transform="translate(289.72,376.20) scale(0.95,1)" font-size="7.7" font-weight="bold" text-anchor="middle" fill="#111" >40</text>
<line x1="318.68" y1="363.60" x2="318.68" y2="367.60" stroke="#111" stroke-width="1.2" />
<text transform="translate(318.68,376.20) scale(0.95,1)" font-size="7.7" font-weight="bold" text-anchor="middle" fill="#111" >60</text>
<line x1="347.64" y1="363.60" x2="347.64" y2="367.60" stroke="#111" stroke-width="1.2" />
<text transform="translate(347.64,376.20) scale(0.95,1)" font-size="7.7" font-weight="bold" text-anchor="middle" fill="#111" >80</text>
<line x1="376.60" y1="363.60" x2="376.60" y2="367.60" stroke="#111" stroke-width="1.2" />
<text transform="translate(376.60,376.20) scale(0.95,1)" font-size="7.7" font-weight="bold" text-anchor="middle" fill="#111" >100</text>
<text x="302.70" y="388.70" font-size="9.2" font-weight="bold" text-anchor="middle" fill="#111" >[GABA] (<tspan font-weight="normal">µ</tspan>M)</text>
<text x="311.40" y="207.40" font-size="8.0" font-weight="bold" text-anchor="middle" fill="#111" >(+) preincubation</text>
<polygon points="43.57,362.17 45.37,358.92 41.76,358.92" fill="#7cc2ec"/>
<polygon points="44.13,360.62 45.94,357.38 42.33,357.38" fill="#7cc2ec"/>
<polygon points="45.26,357.01 47.07,353.76 43.46,353.76" fill="#7cc2ec"/>
<polygon points="47.53,347.00 49.34,343.75 45.73,343.75" fill="#7cc2ec"/>
<polygon points="47.53,352.88 49.34,349.63 45.73,349.63" fill="#7cc2ec"/>
<polygon points="52.06,340.50 53.87,337.25 50.26,337.25" fill="#7cc2ec"/>
<polygon points="52.06,349.22 53.87,345.97 50.26,345.97" fill="#7cc2ec"/>
<polygon points="52.06,353.50 53.87,350.25 50.26,350.25" fill="#7cc2ec"/>
<polygon points="61.12,343.70 62.93,340.45 59.32,340.45" fill="#7cc2ec"/>
<polygon points="61.12,345.92 62.93,342.67 59.32,342.67" fill="#7cc2ec"/>
<polygon points="61.12,351.80 62.93,348.55 59.32,348.55" fill="#7cc2ec"/>
<polygon points="79.25,336.11 81.06,332.86 77.44,332.86" fill="#7cc2ec"/>
<polygon points="79.25,341.43 81.06,338.18 77.44,338.18" fill="#7cc2ec"/>
<polygon points="79.25,350.30 81.06,347.05 77.44,347.05" fill="#7cc2ec"/>
<polygon points="115.50,337.19 117.31,333.94 113.69,333.94" fill="#7cc2ec"/>
<polygon points="115.50,339.98 117.31,336.73 113.69,336.73" fill="#7cc2ec"/>
<polygon points="188.00,311.08 189.81,307.83 186.19,307.83" fill="#7cc2ec"/>
<polygon points="188.00,317.79 189.81,314.54 186.19,314.54" fill="#7cc2ec"/>
<polygon points="188.00,323.21 189.81,319.96 186.19,319.96" fill="#7cc2ec"/>
<polygon points="188.00,331.62 189.81,328.37 186.19,328.37" fill="#7cc2ec"/>
<path d="M42.78,355.21H45.48M44.13,353.86V356.56" stroke="#e3979f" stroke-width="1" fill="none"/>
<path d="M43.91,348.50H46.61M45.26,347.15V349.85" stroke="#e3979f" stroke-width="1" fill="none"/>
<path d="M43.91,352.11H46.61M45.26,350.76V353.46" stroke="#e3979f" stroke-width="1" fill="none"/>
<path d="M46.18,338.18H48.88M47.53,336.83V339.53" stroke="#e3979f" stroke-width="1" fill="none"/>
<path d="M46.18,343.34H48.88M47.53,341.99V344.69" stroke="#e3979f" stroke-width="1" fill="none"/>
<path d="M50.71,314.80H53.41M52.06,313.45V316.15" stroke="#e3979f" stroke-width="1" fill="none"/>
<path d="M50.71,324.60H53.41M52.06,323.25V325.95" stroke="#e3979f" stroke-width="1" fill="none"/>
<path d="M59.77,314.28H62.48M61.12,312.93V315.63" stroke="#e3979f" stroke-width="1" fill="none"/>
<path d="M59.77,330.90H62.48M61.12,329.55V332.25" stroke="#e3979f" stroke-width="1" fill="none"/>
<path d="M59.77,335.90H62.48M61.12,334.55V337.25" stroke="#e3979f" stroke-width="1" fill="none"/>
<path d="M77.90,304.01H80.60M79.25,302.66V305.36" stroke="#e3979f" stroke-width="1" fill="none"/>
<path d="M77.90,318.92H80.60M79.25,317.57V320.27" stroke="#e3979f" stroke-width="1" fill="none"/>
<path d="M77.90,331.62H80.60M79.25,330.27V332.97" stroke="#e3979f" stroke-width="1" fill="none"/>
<path d="M114.15,280.58H116.85M115.50,279.23V281.93" stroke="#e3979f" stroke-width="1" fill="none"/>
<path d="M114.15,286.20H116.85M115.50,284.85V287.55" stroke="#e3979f" stroke-width="1" fill="none"/>
<path d="M114.15,318.00H116.85M115.50,316.65V319.35" stroke="#e3979f" stroke-width="1" fill="none"/>
<path d="M186.65,261.43H189.35M188.00,260.08V262.78" stroke="#e3979f" stroke-width="1" fill="none"/>
<path d="M186.65,269.43H189.35M188.00,268.08V270.78" stroke="#e3979f" stroke-width="1" fill="none"/>
<path d="M186.65,304.53H189.35M188.00,303.18V305.88" stroke="#e3979f" stroke-width="1" fill="none"/>
<polygon points="43.57,356.50 45.37,359.75 41.76,359.75" fill="#f2a048"/>
<polygon points="44.13,351.85 45.94,355.10 42.33,355.10" fill="#f2a048"/>
<polygon points="44.13,355.47 45.94,358.72 42.33,358.72" fill="#f2a048"/>
<polygon points="45.26,344.11 47.07,347.36 43.46,347.36" fill="#f2a048"/>
<polygon points="45.26,349.27 47.07,352.52 43.46,352.52" fill="#f2a048"/>
<polygon points="47.53,327.60 49.34,330.85 45.73,330.85" fill="#f2a048"/>
<polygon points="47.53,338.95 49.34,342.20 45.73,342.20" fill="#f2a048"/>
<polygon points="52.06,305.40 53.87,308.65 50.26,308.65" fill="#f2a048"/>
<polygon points="52.06,341.22 53.87,344.47 50.26,344.47" fill="#f2a048"/>
<polygon points="61.12,278.00 62.93,281.25 59.32,281.25" fill="#f2a048"/>
<polygon points="61.12,285.38 62.93,288.63 59.32,288.63" fill="#f2a048"/>
<polygon points="61.12,318.72 62.93,321.97 59.32,321.97" fill="#f2a048"/>
<polygon points="79.25,261.17 81.06,264.42 77.44,264.42" fill="#f2a048"/>
<polygon points="79.25,313.40 81.06,316.65 77.44,316.65" fill="#f2a048"/>
<polygon points="79.25,334.82 81.06,338.07 77.44,338.07" fill="#f2a048"/>
<polygon points="115.50,248.43 117.31,251.68 113.69,251.68" fill="#f2a048"/>
<polygon points="115.50,256.27 117.31,259.52 113.69,259.52" fill="#f2a048"/>
<polygon points="115.50,304.89 117.31,308.14 113.69,308.14" fill="#f2a048"/>
<polygon points="115.50,320.89 117.31,324.14 113.69,324.14" fill="#f2a048"/>
<polygon points="188.00,251.94 189.81,255.19 186.19,255.19" fill="#f2a048"/>
<polygon points="188.00,293.07 189.81,296.32 186.19,296.32" fill="#f2a048"/>
<polygon points="188.00,308.50 189.81,311.75 186.19,311.75" fill="#f2a048"/>
<circle cx="43.57" cy="354.69" r="1.75" fill="#0a0a0a"/>
<circle cx="43.57" cy="356.24" r="1.75" fill="#0a0a0a"/>
<circle cx="43.57" cy="358.30" r="1.75" fill="#0a0a0a"/>
<circle cx="43.57" cy="359.85" r="1.75" fill="#0a0a0a"/>
<circle cx="44.13" cy="345.92" r="1.75" fill="#0a0a0a"/>
<circle cx="44.13" cy="348.50" r="1.75" fill="#0a0a0a"/>
<circle cx="44.13" cy="351.08" r="1.75" fill="#0a0a0a"/>
<circle cx="45.26" cy="338.69" r="1.75" fill="#0a0a0a"/>
<circle cx="45.26" cy="341.79" r="1.75" fill="#0a0a0a"/>
<circle cx="45.26" cy="345.92" r="1.75" fill="#0a0a0a"/>
<circle cx="45.26" cy="347.98" r="1.75" fill="#0a0a0a"/>
<circle cx="47.53" cy="325.43" r="1.75" fill="#0a0a0a"/>
<circle cx="47.53" cy="329.40" r="1.75" fill="#0a0a0a"/>
<circle cx="47.53" cy="332.50" r="1.75" fill="#0a0a0a"/>
<circle cx="47.53" cy="337.92" r="1.75" fill="#0a0a0a"/>
<circle cx="52.06" cy="303.91" r="1.75" fill="#0a0a0a"/>
<circle cx="52.06" cy="310.00" r="1.75" fill="#0a0a0a"/>
<circle cx="52.06" cy="312.89" r="1.75" fill="#0a0a0a"/>
<circle cx="61.12" cy="282.59" r="1.75" fill="#0a0a0a"/>
<circle cx="61.12" cy="296.42" r="1.75" fill="#0a0a0a"/>
<circle cx="61.12" cy="298.69" r="1.75" fill="#0a0a0a"/>
<circle cx="61.12" cy="300.29" r="1.75" fill="#0a0a0a"/>
<circle cx="79.25" cy="268.09" r="1.75" fill="#0a0a0a"/>
<circle cx="79.25" cy="281.40" r="1.75" fill="#0a0a0a"/>
<circle cx="79.25" cy="283.00" r="1.75" fill="#0a0a0a"/>
<circle cx="79.25" cy="284.91" r="1.75" fill="#0a0a0a"/>
<circle cx="115.50" cy="260.40" r="1.75" fill="#0a0a0a"/>
<circle cx="115.50" cy="272.22" r="1.75" fill="#0a0a0a"/>
<circle cx="115.50" cy="274.08" r="1.75" fill="#0a0a0a"/>
<circle cx="115.50" cy="276.40" r="1.75" fill="#0a0a0a"/>
<circle cx="188.00" cy="238.41" r="1.75" fill="#0a0a0a"/>
<circle cx="188.00" cy="248.01" r="1.75" fill="#0a0a0a"/>
<circle cx="188.00" cy="256.22" r="1.75" fill="#0a0a0a"/>
<polyline points="43.00,361.40 43.15,360.91 43.16,360.88 43.17,360.84 43.18,360.80 43.19,360.76 43.21,360.72 43.22,360.67 43.24,360.62 43.25,360.56 43.27,360.50 43.29,360.44 43.31,360.37 43.33,360.30 43.36,360.22 43.39,360.14 43.41,360.05 43.44,359.96 43.47,359.86 43.51,359.75 43.55,359.64 43.59,359.52 43.63,359.39 43.67,359.26 43.72,359.11 43.77,358.96 43.83,358.80 43.89,358.63 43.95,358.44 44.02,358.25 44.10,358.05 44.18,357.83 44.26,357.60 44.35,357.36 44.45,357.10 44.55,356.84 44.67,356.55 44.79,356.26 44.92,355.94 45.06,355.62 45.20,355.28 45.36,354.92 45.53,354.55 45.72,354.16 45.91,353.75 46.12,353.33 46.35,352.90 46.59,352.45 46.85,351.98 47.13,351.50 47.43,351.01 47.75,350.50 48.09,349.98 48.46,349.45 48.85,348.91 49.28,348.35 49.73,347.79 50.22,347.23 50.74,346.65 51.30,346.07 51.90,345.49 52.54,344.90 53.23,344.32 53.97,343.73 54.76,343.15 55.61,342.57 56.52,341.99 57.50,341.42 58.55,340.86 59.67,340.31 60.88,339.77 62.17,339.24 63.55,338.72 65.04,338.21 66.63,337.71 68.34,337.23 70.17,336.77 72.13,336.32 74.24,335.88 76.50,335.46 78.92,335.06 81.51,334.67 84.30,334.29 87.28,333.94 90.48,333.59 93.91,333.27 97.59,332.95 101.54,332.66 105.77,332.37 110.30,332.11 115.17,331.85 120.38,331.61 125.97,331.38 131.97,331.16 138.40,330.96 145.29,330.76 152.69,330.58 160.61,330.41 169.11,330.24 178.23,330.09 188.00,329.95" fill="none" stroke="#7cc2ec" stroke-width="1.45" stroke-linejoin="round" stroke-linecap="round"/>
<polyline points="43.00,361.40 43.15,360.52 43.16,360.46 43.17,360.39 43.18,360.32 43.19,360.24 43.21,360.16 43.22,360.07 43.24,359.98 43.25,359.88 43.27,359.77 43.29,359.65 43.31,359.53 43.33,359.40 43.36,359.26 43.39,359.11 43.41,358.95 43.44,358.78 43.47,358.60 43.51,358.40 43.55,358.20 43.59,357.97 43.63,357.74 43.67,357.49 43.72,357.22 43.77,356.94 43.83,356.64 43.89,356.32 43.95,355.98 44.02,355.61 44.10,355.23 44.18,354.83 44.26,354.39 44.35,353.94 44.45,353.46 44.55,352.95 44.67,352.41 44.79,351.85 44.92,351.25 45.06,350.63 45.20,349.97 45.36,349.28 45.53,348.55 45.72,347.80 45.91,347.01 46.12,346.18 46.35,345.32 46.59,344.42 46.85,343.50 47.13,342.53 47.43,341.54 47.75,340.51 48.09,339.44 48.46,338.35 48.85,337.23 49.28,336.09 49.73,334.91 50.22,333.72 50.74,332.50 51.30,331.26 51.90,330.01 52.54,328.74 53.23,327.47 53.97,326.18 54.76,324.90 55.61,323.61 56.52,322.32 57.50,321.04 58.55,319.77 59.67,318.51 60.88,317.26 62.17,316.03 63.55,314.82 65.04,313.63 66.63,312.47 68.34,311.33 70.17,310.22 72.13,309.14 74.24,308.09 76.50,307.07 78.92,306.08 81.51,305.13 84.30,304.21 87.28,303.33 90.48,302.48 93.91,301.67 97.59,300.89 101.54,300.14 105.77,299.43 110.30,298.75 115.17,298.10 120.38,297.49 125.97,296.90 131.97,296.35 138.40,295.82 145.29,295.32 152.69,294.85 160.61,294.40 169.11,293.98 178.23,293.58 188.00,293.21" fill="none" stroke="#e3979f" stroke-width="1.45" stroke-linejoin="round" stroke-linecap="round"/>
<polyline points="43.00,361.40 43.15,360.14 43.16,360.06 43.17,359.96 43.18,359.86 43.19,359.75 43.21,359.63 43.22,359.51 43.24,359.37 43.25,359.23 43.27,359.08 43.29,358.91 43.31,358.74 43.33,358.56 43.36,358.36 43.39,358.15 43.41,357.92 43.44,357.68 43.47,357.42 43.51,357.15 43.55,356.86 43.59,356.55 43.63,356.22 43.67,355.87 43.72,355.50 43.77,355.11 43.83,354.69 43.89,354.24 43.95,353.77 44.02,353.28 44.10,352.75 44.18,352.19 44.26,351.60 44.35,350.98 44.45,350.33 44.55,349.64 44.67,348.92 44.79,348.16 44.92,347.36 45.06,346.53 45.20,345.65 45.36,344.74 45.53,343.79 45.72,342.80 45.91,341.77 46.12,340.70 46.35,339.59 46.59,338.44 46.85,337.26 47.13,336.04 47.43,334.79 47.75,333.50 48.09,332.19 48.46,330.84 48.85,329.47 49.28,328.08 49.73,326.67 50.22,325.23 50.74,323.79 51.30,322.33 51.90,320.87 52.54,319.40 53.23,317.94 53.97,316.47 54.76,315.02 55.61,313.57 56.52,312.14 57.50,310.72 58.55,309.33 59.67,307.95 60.88,306.61 62.17,305.29 63.55,304.00 65.04,302.75 66.63,301.52 68.34,300.34 70.17,299.19 72.13,298.08 74.24,297.00 76.50,295.97 78.92,294.97 81.51,294.02 84.30,293.10 87.28,292.23 90.48,291.39 93.91,290.59 97.59,289.82 101.54,289.10 105.77,288.41 110.30,287.75 115.17,287.13 120.38,286.53 125.97,285.97 131.97,285.45 138.40,284.95 145.29,284.47 152.69,284.03 160.61,283.61 169.11,283.21 178.23,282.84 188.00,282.48" fill="none" stroke="#f2a048" stroke-width="1.45" stroke-linejoin="round" stroke-linecap="round"/>
<polyline points="43.00,361.40 43.15,360.03 43.16,359.93 43.17,359.83 43.18,359.71 43.19,359.60 43.21,359.47 43.22,359.33 43.24,359.18 43.25,359.03 43.27,358.86 43.29,358.68 43.31,358.49 43.33,358.28 43.36,358.07 43.39,357.83 43.41,357.58 43.44,357.32 43.47,357.04 43.51,356.73 43.55,356.41 43.59,356.07 43.63,355.70 43.67,355.31 43.72,354.90 43.77,354.46 43.83,353.99 43.89,353.50 43.95,352.97 44.02,352.41 44.10,351.82 44.18,351.19 44.26,350.52 44.35,349.82 44.45,349.08 44.55,348.29 44.67,347.47 44.79,346.60 44.92,345.68 45.06,344.72 45.20,343.70 45.36,342.64 45.53,341.53 45.72,340.37 45.91,339.16 46.12,337.90 46.35,336.59 46.59,335.22 46.85,333.80 47.13,332.34 47.43,330.82 47.75,329.26 48.09,327.65 48.46,326.00 48.85,324.31 49.28,322.58 49.73,320.81 50.22,319.01 50.74,317.18 51.30,315.33 51.90,313.46 52.54,311.57 53.23,309.66 53.97,307.75 54.76,305.84 55.61,303.93 56.52,302.02 57.50,300.13 58.55,298.25 59.67,296.39 60.88,294.56 62.17,292.75 63.55,290.98 65.04,289.24 66.63,287.53 68.34,285.87 70.17,284.25 72.13,282.68 74.24,281.15 76.50,279.68 78.92,278.25 81.51,276.87 84.30,275.54 87.28,274.27 90.48,273.04 93.91,271.87 97.59,270.75 101.54,269.68 105.77,268.65 110.30,267.68 115.17,266.75 120.38,265.87 125.97,265.03 131.97,264.24 138.40,263.49 145.29,262.77 152.69,262.10 160.61,261.46 169.11,260.86 178.23,260.29 188.00,259.76" fill="none" stroke="#0a0a0a" stroke-width="1.5" stroke-linejoin="round" stroke-linecap="round"/>
<polygon points="232.93,364.37 234.73,361.12 231.12,361.12" fill="#7cc2ec"/>
<polygon points="234.06,363.34 235.86,360.09 232.25,360.09" fill="#7cc2ec"/>
<polygon points="236.33,362.30 238.13,359.05 234.52,359.05" fill="#7cc2ec"/>
<polygon points="236.33,363.85 238.13,360.60 234.52,360.60" fill="#7cc2ec"/>
<polygon points="240.85,360.28 242.66,357.03 239.05,357.03" fill="#7cc2ec"/>
<polygon points="240.85,362.82 242.66,359.57 239.05,359.57" fill="#7cc2ec"/>
<polygon points="249.90,359.30 251.71,356.05 248.09,356.05" fill="#7cc2ec"/>
<polygon points="249.90,361.78 251.71,358.53 248.09,358.53" fill="#7cc2ec"/>
<polygon points="268.00,355.88 269.81,352.63 266.19,352.63" fill="#7cc2ec"/>
<polygon points="268.00,358.16 269.81,354.91 266.19,354.91" fill="#7cc2ec"/>
<polygon points="268.00,360.23 269.81,356.98 266.19,356.98" fill="#7cc2ec"/>
<polygon points="304.20,350.40 306.00,347.15 302.39,347.15" fill="#7cc2ec"/>
<polygon points="304.20,353.50 306.00,350.25 302.39,350.25" fill="#7cc2ec"/>
<polygon points="304.20,356.50 306.00,353.25 302.39,353.25" fill="#7cc2ec"/>
<polygon points="376.60,334.51 378.41,331.26 374.80,331.26" fill="#7cc2ec"/>
<polygon points="376.60,343.83 378.41,340.58 374.80,340.58" fill="#7cc2ec"/>
<polygon points="376.60,348.43 378.41,345.18 374.80,345.18" fill="#7cc2ec"/>
<path d="M231.58,360.50H234.28M232.93,359.14V361.85" stroke="#e3979f" stroke-width="1" fill="none"/>
<path d="M232.71,355.84H235.41M234.06,354.49V357.19" stroke="#e3979f" stroke-width="1" fill="none"/>
<path d="M232.71,359.46H235.41M234.06,358.11V360.81" stroke="#e3979f" stroke-width="1" fill="none"/>
<path d="M234.98,348.08H237.68M236.33,346.73V349.43" stroke="#e3979f" stroke-width="1" fill="none"/>
<path d="M234.98,355.84H237.68M236.33,354.49V357.19" stroke="#e3979f" stroke-width="1" fill="none"/>
<path d="M239.50,345.80H242.20M240.85,344.45V347.15" stroke="#e3979f" stroke-width="1" fill="none"/>
<path d="M239.50,350.82H242.20M240.85,349.47V352.17" stroke="#e3979f" stroke-width="1" fill="none"/>
<path d="M248.55,326.60H251.25M249.90,325.25V327.95" stroke="#e3979f" stroke-width="1" fill="none"/>
<path d="M248.55,339.28H251.25M249.90,337.93V340.63" stroke="#e3979f" stroke-width="1" fill="none"/>
<path d="M248.55,350.30H251.25M249.90,348.95V351.65" stroke="#e3979f" stroke-width="1" fill="none"/>
<path d="M248.55,353.30H251.25M249.90,351.95V354.65" stroke="#e3979f" stroke-width="1" fill="none"/>
<path d="M266.65,321.22H269.35M268.00,319.87V322.57" stroke="#e3979f" stroke-width="1" fill="none"/>
<path d="M266.65,332.50H269.35M268.00,331.15V333.85" stroke="#e3979f" stroke-width="1" fill="none"/>
<path d="M266.65,345.28H269.35M268.00,343.93V346.63" stroke="#e3979f" stroke-width="1" fill="none"/>
<path d="M266.65,349.89H269.35M268.00,348.54V351.24" stroke="#e3979f" stroke-width="1" fill="none"/>
<path d="M302.85,311.18H305.55M304.20,309.83V312.53" stroke="#e3979f" stroke-width="1" fill="none"/>
<path d="M302.85,323.29H305.55M304.20,321.94V324.64" stroke="#e3979f" stroke-width="1" fill="none"/>
<path d="M302.85,338.92H305.55M304.20,337.57V340.27" stroke="#e3979f" stroke-width="1" fill="none"/>
<path d="M375.25,290.32H377.95M376.60,288.97V291.67" stroke="#e3979f" stroke-width="1" fill="none"/>
<path d="M375.25,308.12H377.95M376.60,306.77V309.47" stroke="#e3979f" stroke-width="1" fill="none"/>
<path d="M375.25,328.82H377.95M376.60,327.47V330.17" stroke="#e3979f" stroke-width="1" fill="none"/>
<path d="M375.25,334.98H377.95M376.60,333.63V336.33" stroke="#e3979f" stroke-width="1" fill="none"/>
<polygon points="232.36,358.69 234.17,361.94 230.56,361.94" fill="#f2a048"/>
<polygon points="232.93,354.03 234.73,357.28 231.12,357.28" fill="#f2a048"/>
<polygon points="232.93,356.62 234.73,359.87 231.12,359.87" fill="#f2a048"/>
<polygon points="234.06,347.41 235.86,350.66 232.25,350.66" fill="#f2a048"/>
<polygon points="234.06,351.44 235.86,354.69 232.25,354.69" fill="#f2a048"/>
<polygon points="236.33,334.57 238.13,337.82 234.52,337.82" fill="#f2a048"/>
<polygon points="236.33,341.10 238.13,344.34 234.52,344.34" fill="#f2a048"/>
<polygon points="240.85,319.41 242.66,322.66 239.05,322.66" fill="#f2a048"/>
<polygon points="240.85,321.90 242.66,325.14 239.05,325.14" fill="#f2a048"/>
<polygon points="240.85,333.80 242.66,337.05 239.05,337.05" fill="#f2a048"/>
<polygon points="249.90,293.17 251.71,296.42 248.09,296.42" fill="#f2a048"/>
<polygon points="249.90,311.70 251.71,314.95 248.09,314.95" fill="#f2a048"/>
<polygon points="249.90,315.12 251.71,318.37 248.09,318.37" fill="#f2a048"/>
<polygon points="249.90,330.69 251.71,333.94 248.09,333.94" fill="#f2a048"/>
<polygon points="268.00,272.58 269.81,275.83 266.19,275.83" fill="#f2a048"/>
<polygon points="268.00,293.17 269.81,296.42 266.19,296.42" fill="#f2a048"/>
<polygon points="268.00,321.90 269.81,325.14 266.19,325.14" fill="#f2a048"/>
<polygon points="304.20,253.02 306.00,256.27 302.39,256.27" fill="#f2a048"/>
<polygon points="304.20,281.48 306.00,284.73 302.39,284.73" fill="#f2a048"/>
<polygon points="304.20,293.59 306.00,296.84 302.39,296.84" fill="#f2a048"/>
<polygon points="304.20,313.98 306.00,317.23 302.39,317.23" fill="#f2a048"/>
<polygon points="376.60,228.95 378.41,232.20 374.80,232.20" fill="#f2a048"/>
<polygon points="376.60,262.80 378.41,266.05 374.80,266.05" fill="#f2a048"/>
<polygon points="376.60,274.08 378.41,277.33 374.80,277.33" fill="#f2a048"/>
<polygon points="376.60,299.49 378.41,302.74 374.80,302.74" fill="#f2a048"/>
<circle cx="232.36" cy="355.84" r="1.75" fill="#0a0a0a"/>
<circle cx="232.36" cy="358.43" r="1.75" fill="#0a0a0a"/>
<circle cx="232.36" cy="361.01" r="1.75" fill="#0a0a0a"/>
<circle cx="232.93" cy="349.01" r="1.75" fill="#0a0a0a"/>
<circle cx="232.93" cy="351.70" r="1.75" fill="#0a0a0a"/>
<circle cx="232.93" cy="353.97" r="1.75" fill="#0a0a0a"/>
<circle cx="234.06" cy="339.02" r="1.75" fill="#0a0a0a"/>
<circle cx="234.06" cy="342.90" r="1.75" fill="#0a0a0a"/>
<circle cx="234.06" cy="347.51" r="1.75" fill="#0a0a0a"/>
<circle cx="236.33" cy="327.12" r="1.75" fill="#0a0a0a"/>
<circle cx="236.33" cy="329.70" r="1.75" fill="#0a0a0a"/>
<circle cx="236.33" cy="332.55" r="1.75" fill="#0a0a0a"/>
<circle cx="240.85" cy="307.09" r="1.75" fill="#0a0a0a"/>
<circle cx="240.85" cy="312.73" r="1.75" fill="#0a0a0a"/>
<circle cx="240.85" cy="316.92" r="1.75" fill="#0a0a0a"/>
<circle cx="249.90" cy="285.20" r="1.75" fill="#0a0a0a"/>
<circle cx="249.90" cy="299.27" r="1.75" fill="#0a0a0a"/>
<circle cx="249.90" cy="303.52" r="1.75" fill="#0a0a0a"/>
<circle cx="268.00" cy="270.50" r="1.75" fill="#0a0a0a"/>
<circle cx="268.00" cy="283.80" r="1.75" fill="#0a0a0a"/>
<circle cx="268.00" cy="287.99" r="1.75" fill="#0a0a0a"/>
<circle cx="304.20" cy="263.31" r="1.75" fill="#0a0a0a"/>
<circle cx="304.20" cy="275.42" r="1.75" fill="#0a0a0a"/>
<circle cx="304.20" cy="279.09" r="1.75" fill="#0a0a0a"/>
<circle cx="376.60" cy="241.11" r="1.75" fill="#0a0a0a"/>
<circle cx="376.60" cy="250.42" r="1.75" fill="#0a0a0a"/>
<circle cx="376.60" cy="259.58" r="1.75" fill="#0a0a0a"/>
<polyline points="231.80,363.60 231.94,363.14 231.96,363.11 231.97,363.08 231.98,363.04 231.99,363.00 232.01,362.96 232.02,362.91 232.04,362.86 232.05,362.81 232.07,362.75 232.09,362.69 232.11,362.63 232.13,362.56 232.16,362.49 232.18,362.41 232.21,362.33 232.24,362.24 232.27,362.14 232.31,362.04 232.35,361.93 232.38,361.82 232.43,361.69 232.47,361.56 232.52,361.42 232.57,361.27 232.63,361.12 232.69,360.95 232.75,360.77 232.82,360.58 232.90,360.37 232.97,360.16 233.06,359.93 233.15,359.69 233.25,359.44 233.35,359.16 233.46,358.88 233.59,358.58 233.71,358.26 233.85,357.92 234.00,357.57 234.16,357.20 234.33,356.81 234.51,356.40 234.71,355.97 234.92,355.52 235.15,355.05 235.39,354.56 235.65,354.05 235.92,353.51 236.22,352.96 236.54,352.39 236.88,351.80 237.25,351.19 237.65,350.56 238.07,349.91 238.52,349.25 239.01,348.57 239.53,347.87 240.09,347.16 240.68,346.44 241.33,345.71 242.02,344.97 242.75,344.22 243.55,343.46 244.39,342.70 245.30,341.94 246.28,341.18 247.33,340.41 248.45,339.66 249.65,338.90 250.94,338.16 252.33,337.42 253.81,336.69 255.40,335.97 257.10,335.27 258.93,334.58 260.89,333.91 263.00,333.25 265.25,332.61 267.67,331.99 270.26,331.39 273.04,330.81 276.02,330.25 279.22,329.70 282.64,329.18 286.32,328.68 290.26,328.20 294.48,327.74 299.01,327.30 303.87,326.88 309.08,326.48 314.66,326.10 320.65,325.73 327.07,325.39 333.95,325.06 341.34,324.75 349.25,324.46 357.74,324.18 366.84,323.91 376.60,323.67" fill="none" stroke="#e3979f" stroke-width="1.45" stroke-linejoin="round" stroke-linecap="round"/>
<polyline points="231.80,363.60 231.94,362.62 231.96,362.55 231.97,362.48 231.98,362.40 231.99,362.31 232.01,362.22 232.02,362.12 232.04,362.02 232.05,361.91 232.07,361.79 232.09,361.66 232.11,361.52 232.13,361.37 232.16,361.22 232.18,361.05 232.21,360.87 232.24,360.68 232.27,360.48 232.31,360.26 232.35,360.03 232.38,359.78 232.43,359.52 232.47,359.24 232.52,358.94 232.57,358.62 232.63,358.29 232.69,357.93 232.75,357.54 232.82,357.14 232.90,356.71 232.97,356.25 233.06,355.77 233.15,355.26 233.25,354.71 233.35,354.14 233.46,353.54 233.59,352.90 233.71,352.22 233.85,351.51 234.00,350.77 234.16,349.98 234.33,349.16 234.51,348.30 234.71,347.40 234.92,346.45 235.15,345.47 235.39,344.45 235.65,343.38 235.92,342.27 236.22,341.12 236.54,339.94 236.88,338.71 237.25,337.45 237.65,336.15 238.07,334.81 238.52,333.45 239.01,332.05 239.53,330.62 240.09,329.17 240.68,327.70 241.33,326.21 242.02,324.70 242.75,323.18 243.55,321.65 244.39,320.12 245.30,318.58 246.28,317.05 247.33,315.53 248.45,314.01 249.65,312.51 250.94,311.02 252.33,309.56 253.81,308.11 255.40,306.70 257.10,305.31 258.93,303.95 260.89,302.63 263.00,301.34 265.25,300.09 267.67,298.88 270.26,297.71 273.04,296.57 276.02,295.48 279.22,294.43 282.64,293.42 286.32,292.45 290.26,291.52 294.48,290.63 299.01,289.78 303.87,288.97 309.08,288.20 314.66,287.47 320.65,286.77 327.07,286.11 333.95,285.48 341.34,284.89 349.25,284.32 357.74,283.79 366.84,283.29 376.60,282.81" fill="none" stroke="#f2a048" stroke-width="1.45" stroke-linejoin="round" stroke-linecap="round"/>
<polyline points="231.80,363.60 231.94,362.10 231.96,362.00 231.97,361.88 231.98,361.76 231.99,361.63 232.01,361.49 232.02,361.34 232.04,361.18 232.05,361.01 232.07,360.83 232.09,360.63 232.11,360.42 232.13,360.20 232.16,359.96 232.18,359.71 232.21,359.44 232.24,359.15 232.27,358.85 232.31,358.52 232.35,358.17 232.38,357.80 232.43,357.40 232.47,356.98 232.52,356.54 232.57,356.06 232.63,355.56 232.69,355.02 232.75,354.46 232.82,353.85 232.90,353.22 232.97,352.54 233.06,351.83 233.15,351.08 233.25,350.29 233.35,349.45 233.46,348.57 233.59,347.65 233.71,346.68 233.85,345.66 234.00,344.59 234.16,343.47 234.33,342.31 234.51,341.09 234.71,339.82 234.92,338.50 235.15,337.13 235.39,335.72 235.65,334.25 235.92,332.74 236.22,331.18 236.54,329.58 236.88,327.93 237.25,326.25 237.65,324.53 238.07,322.77 238.52,320.99 239.01,319.18 239.53,317.35 240.09,315.50 240.68,313.64 241.33,311.77 242.02,309.89 242.75,308.01 243.55,306.14 244.39,304.27 245.30,302.42 246.28,300.59 247.33,298.77 248.45,296.99 249.65,295.23 250.94,293.50 252.33,291.81 253.81,290.16 255.40,288.56 257.10,286.99 258.93,285.47 260.89,284.00 263.00,282.57 265.25,281.20 267.67,279.87 270.26,278.60 273.04,277.37 276.02,276.20 279.22,275.08 282.64,274.00 286.32,272.97 290.26,272.00 294.48,271.06 299.01,270.18 303.87,269.34 309.08,268.54 314.66,267.78 320.65,267.06 327.07,266.38 333.95,265.74 341.34,265.14 349.25,264.56 357.74,264.03 366.84,263.52 376.60,263.04" fill="none" stroke="#0a0a0a" stroke-width="1.5" stroke-linejoin="round" stroke-linecap="round"/>
<text x="424.00" y="224.60" font-size="9.7" font-weight="bold" text-anchor="middle" fill="#111" >[<tspan font-style="italic">SR</tspan>-THAP]</text>
<line x1="396.80" y1="234.20" x2="413.50" y2="234.20" stroke="#0a0a0a" stroke-width="1.5" />
<circle cx="405.10" cy="234.20" r="2.16" fill="#0a0a0a"/>
<text x="421.80" y="237.60" font-size="9.8" text-anchor="start" fill="#111" >0 µM</text>
<line x1="396.80" y1="246.90" x2="413.50" y2="246.90" stroke="#f2a048" stroke-width="1.5" />
<polygon points="405.10,244.62 407.38,248.72 402.82,248.72" fill="#f2a048"/>
<text x="421.80" y="250.30" font-size="9.8" text-anchor="start" fill="#111" >0.5 µM</text>
<line x1="396.80" y1="259.90" x2="413.50" y2="259.90" stroke="#e3979f" stroke-width="1.5" />
<path d="M403.30,259.90H406.90M405.10,258.10V261.70" stroke="#e3979f" stroke-width="1" fill="none"/>
<text x="421.80" y="263.30" font-size="9.8" text-anchor="start" fill="#111" >2 µM</text>
<line x1="396.80" y1="272.80" x2="413.50" y2="272.80" stroke="#7cc2ec" stroke-width="1.5" />
<polygon points="405.10,275.08 407.38,270.98 402.82,270.98" fill="#7cc2ec"/>
<text x="421.80" y="276.20" font-size="9.8" text-anchor="start" fill="#111" >10 µM</text>
<text x="591.50" y="222.20" font-size="9.8" font-weight="bold" text-anchor="middle" fill="#111" >(-) preincubation</text>
<text x="517.90" y="237.20" font-size="8" font-weight="bold" text-anchor="middle" fill="#111" >[<tspan font-style="italic">SR</tspan>-THAP]</text>
<text x="556" y="235.70" font-size="8.2" font-weight="bold" fill="#111">V<tspan font-size="7" dy="1.9">max</tspan><tspan font-weight="normal" font-size="8.2" dy="-1.0" dx="0.6">(CPM)</tspan></text>
<text x="616.30" y="235.70" font-size="8.2" font-weight="bold" fill="#111">K<tspan font-size="7" dy="1.9">M</tspan><tspan font-weight="normal" font-size="8.2" dy="-1.9" x="633.00">(µM)</tspan></text>
<rect x="489.60" y="239.50" width="174.90" height="46.50" fill="none" stroke="#111" stroke-width="1.2"/>
<line x1="489.60" y1="250.60" x2="664.50" y2="250.60" stroke="#111" stroke-width="1.3" />
<line x1="489.60" y1="261.70" x2="664.50" y2="261.70" stroke="#111" stroke-width="1.3" />
<line x1="489.60" y1="273.20" x2="664.50" y2="273.20" stroke="#111" stroke-width="1.3" />
<text x="515.90" y="248.30" font-size="8.3" text-anchor="end" fill="#111" >0</text>
<text x="518.20" y="248.30" font-size="8.3" text-anchor="start" fill="#111" >µM</text>
<text x="558" y="248.30" font-size="8.3" fill="#111" xml:space="preserve">2117±  55</text>
<text x="646.40" y="248.30" font-size="8.3" text-anchor="end" fill="#111" >7.9±0.7</text>
<text x="515.90" y="259.40" font-size="8.3" text-anchor="end" fill="#111" >0.5</text>
<text x="518.20" y="259.40" font-size="8.3" text-anchor="start" fill="#111" >µM</text>
<text x="558" y="259.40" font-size="8.3" fill="#111" xml:space="preserve">1587±188*</text>
<text x="646.40" y="259.40" font-size="8.3" text-anchor="end" fill="#111" >6.5±2.7</text>
<text x="515.90" y="270.50" font-size="8.3" text-anchor="end" fill="#111" >2</text>
<text x="518.20" y="270.50" font-size="8.3" text-anchor="start" fill="#111" >µM</text>
<text x="558" y="270.50" font-size="8.3" fill="#111" xml:space="preserve">1431±134**</text>
<text x="646.40" y="270.50" font-size="8.3" text-anchor="end" fill="#111" >8.3±2.7</text>
<text x="515.90" y="282.00" font-size="8.3" text-anchor="end" fill="#111" >10</text>
<text x="518.20" y="282.00" font-size="8.3" text-anchor="start" fill="#111" >µM</text>
<text x="558" y="282.00" font-size="8.3" fill="#111" xml:space="preserve"> 837±107**</text>
<text x="646.40" y="282.00" font-size="8.3" text-anchor="end" fill="#111" >18.8±6.7</text>
<text x="591.50" y="309.60" font-size="9.8" font-weight="bold" text-anchor="middle" fill="#111" >(+) preincubation</text>
<text x="520.60" y="322.10" font-size="8" font-weight="bold" text-anchor="middle" fill="#111" >[<tspan font-style="italic">SR</tspan>-THAP]</text>
<text x="556" y="320.60" font-size="8.2" font-weight="bold" fill="#111">V<tspan font-size="7" dy="1.9">max</tspan><tspan font-weight="normal" font-size="8.2" dy="-1.0" dx="0.6">(CPM)</tspan></text>
<text x="618.50" y="320.60" font-size="8.2" font-weight="bold" fill="#111">K<tspan font-size="7" dy="1.9">M</tspan><tspan font-weight="normal" font-size="8.2" dy="-1.9" x="636.30">(µM)</tspan></text>
<rect x="488.60" y="324.80" width="174.40" height="47.80" fill="none" stroke="#111" stroke-width="1.2"/>
<line x1="488.60" y1="337.30" x2="663.00" y2="337.30" stroke="#111" stroke-width="1.3" />
<line x1="488.60" y1="348.50" x2="663.00" y2="348.50" stroke="#111" stroke-width="1.3" />
<line x1="488.60" y1="359.90" x2="663.00" y2="359.90" stroke="#111" stroke-width="1.3" />
<text x="516.90" y="333.60" font-size="8.3" text-anchor="end" fill="#111" >0</text>
<text x="519.20" y="333.60" font-size="8.3" text-anchor="start" fill="#111" >µM</text>
<text x="558" y="333.60" font-size="8.3" fill="#111" xml:space="preserve">2117±55</text>
<text x="646.40" y="333.60" font-size="8.3" text-anchor="end" fill="#111" >7.9±0.7</text>
<text x="516.90" y="346.10" font-size="8.3" text-anchor="end" fill="#111" >0.5</text>
<text x="519.20" y="346.10" font-size="8.3" text-anchor="start" fill="#111" >µM</text>
<text x="558" y="346.10" font-size="8.3" fill="#111" xml:space="preserve">1955±173</text>
<text x="646.40" y="346.10" font-size="8.3" text-anchor="end" fill="#111" >11.7±3.3</text>
<text x="516.90" y="357.30" font-size="8.3" text-anchor="end" fill="#111" >2</text>
<text x="519.20" y="357.30" font-size="8.3" text-anchor="start" fill="#111" >µM</text>
<text x="558" y="357.30" font-size="8.3" fill="#111" xml:space="preserve"> 940±131**</text>
<text x="646.40" y="357.30" font-size="8.3" text-anchor="end" fill="#111" >13.3±5.7</text>
<text x="516.90" y="368.70" font-size="8.3" text-anchor="end" fill="#111" >10</text>
<text x="519.20" y="368.70" font-size="8.3" text-anchor="start" fill="#111" >µM</text>
<text x="558" y="368.70" font-size="8.3" fill="#111" xml:space="preserve">   N.D</text>
<text x="635.50" y="368.70" font-size="8.3" text-anchor="middle" fill="#111" >N.D</text>
</svg></body></html>
